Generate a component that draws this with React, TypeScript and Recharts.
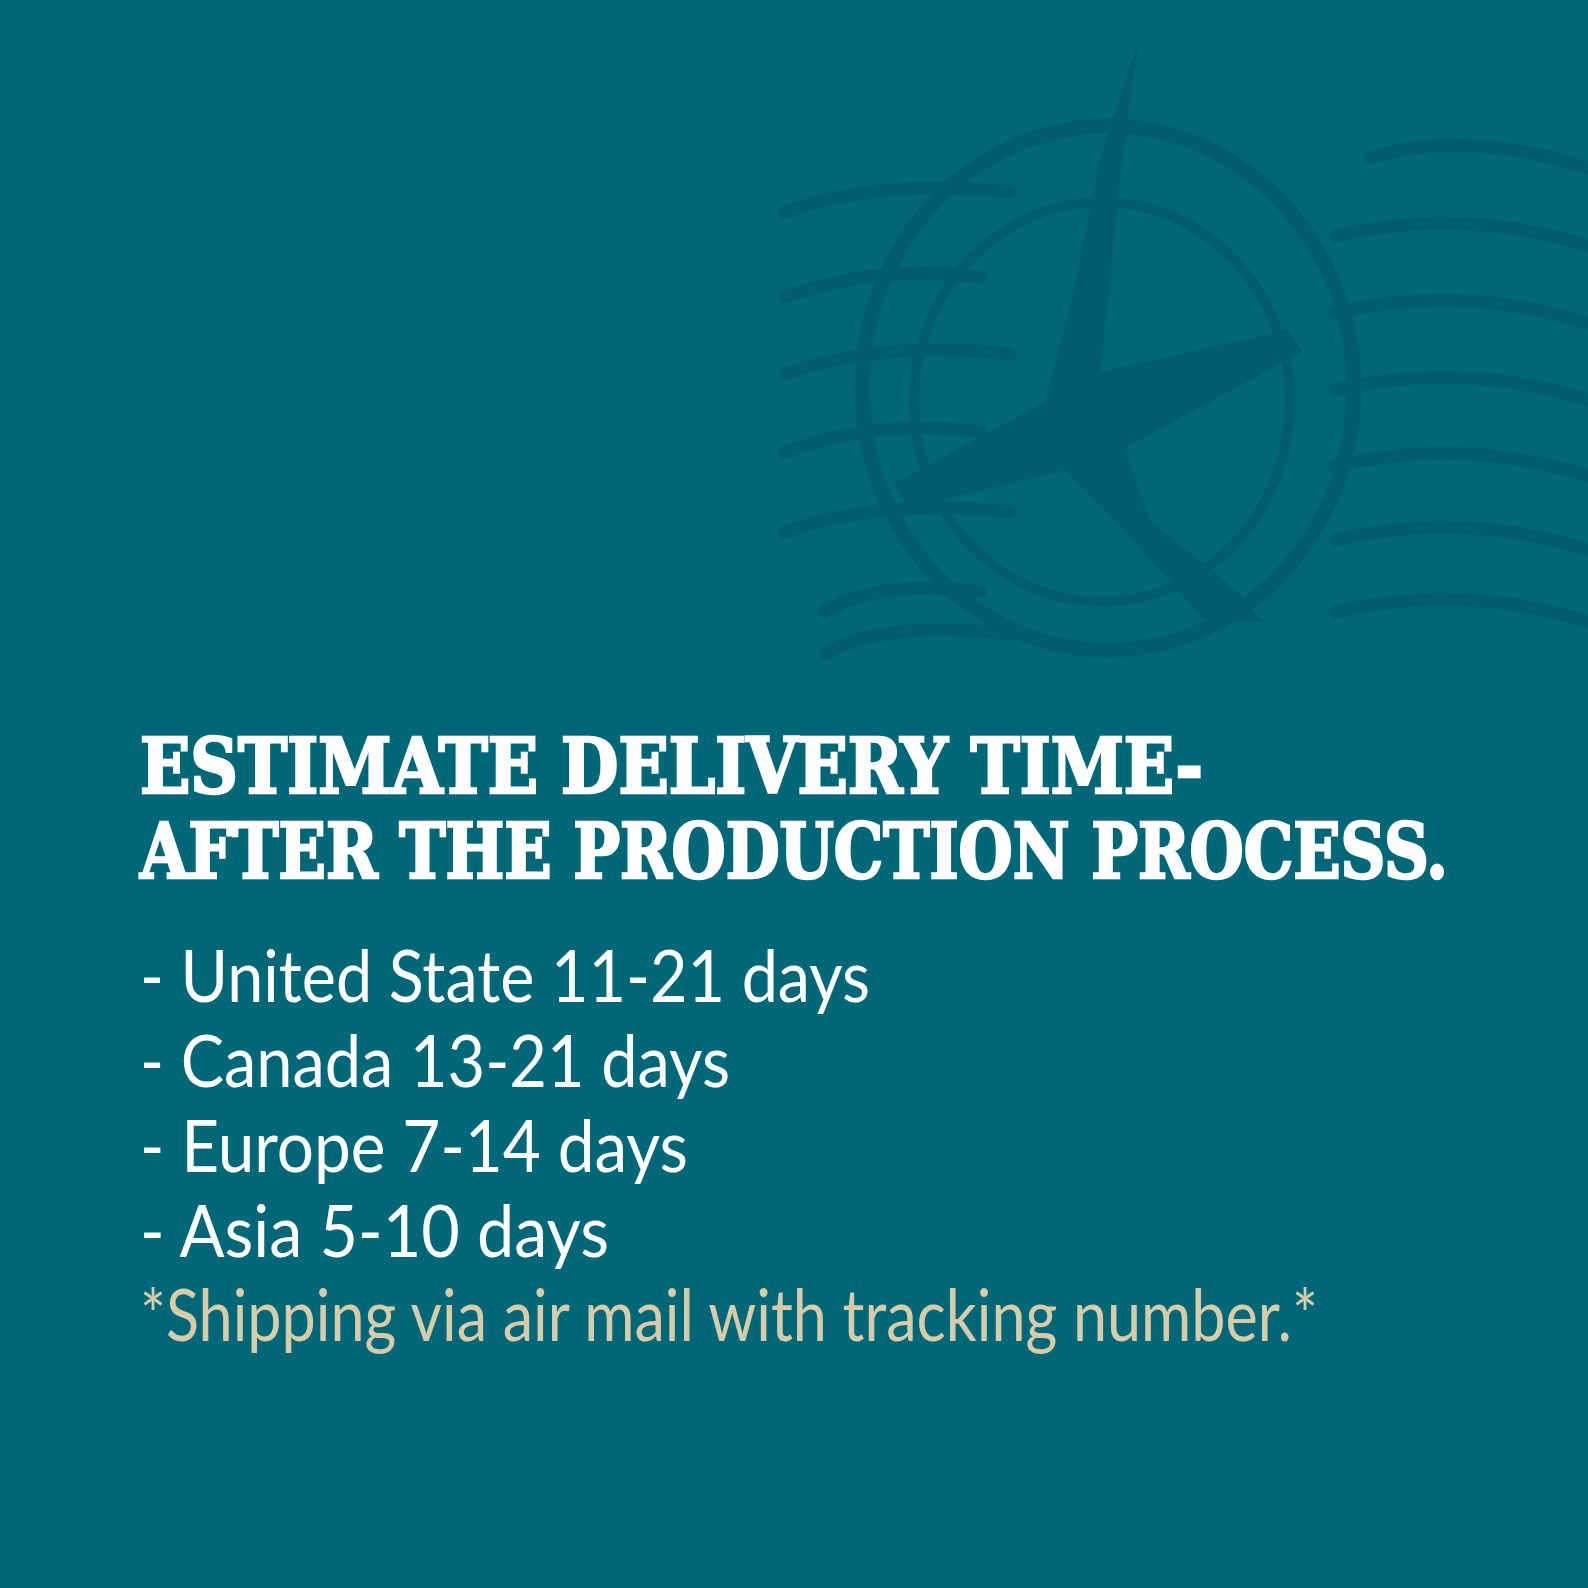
import React from 'react';
import { ComposedChart, Scatter, XAxis, YAxis, Customized } from 'recharts';

// ---- data ----
const titleLines = ['ESTIMATE DELIVERY TIME-', 'AFTER THE PRODUCTION PROCESS.'];
const regions = ['United State', 'Canada', 'Europe', 'Asia'];
const minDays = [11, 13, 7, 5];
const maxDays = [21, 21, 14, 10];
const footnote = '*Shipping via air mail with tracking number.*';

// ---- layout (not data) ----
const W = 1588;
const H = 1588;
const ROW_SLOTS = [0, 1, 2.46, 3.46, 4.46, 5.46, 6.45];
const LINE_WIDTHS = [1063, 1308, 730, 590, 548, 469, 1178];
const BG = '#006778';
const STAMP = '#005c6c';

type Row = { x: number; slot: number; text: string; kind: 'title' | 'item' | 'note'; idx: number };

const rows: Row[] = [
  ...titleLines.map((t, i) => ({ x: 0, slot: ROW_SLOTS[i], text: t, kind: 'title' as const, idx: i })),
  ...regions.map((r, i) => ({
    x: 0,
    slot: ROW_SLOTS[titleLines.length + i],
    text: `- ${r} ${minDays[i]}-${maxDays[i]} days`,
    kind: 'item' as const,
    idx: titleLines.length + i,
  })),
  { x: 0, slot: ROW_SLOTS[6], text: footnote, kind: 'note', idx: 6 },
];

const LineShape = (props: any) => {
  const { cx, cy, payload } = props;
  const p = payload as Row;
  if (p.kind === 'title') {
    return (
      <g transform={`translate(${cx},${cy}) scale(1,1.27)`}>
        <text
          x={0}
          y={0}
          fill="#ffffff"
          stroke="#ffffff"
          strokeWidth={2}
          strokeLinejoin="miter"
          fontFamily="'DejaVu Serif Condensed', 'DejaVu Serif', serif"
          fontWeight={900}
          fontSize={60}
          textLength={LINE_WIDTHS[p.idx]}
          lengthAdjust="spacingAndGlyphs"
        >
          {p.text}
        </text>
      </g>
    );
  }
  return (
    <text
      x={cx}
      y={cy}
      fill={p.kind === 'note' ? '#d6ccaa' : '#ffffff'}
      fontFamily="Lato, 'Noto Sans', sans-serif"
      fontWeight={400}
      fontSize={72}
      textLength={LINE_WIDTHS[p.idx]}
      lengthAdjust="spacingAndGlyphs"
    >
      {p.text}
    </text>
  );
};

const Stamp = () => {
  const rightWaves = [150, 228, 305, 382, 458, 532, 604];
  const leftWaves = [200, 285, 362, 440, 520, 600, 642];
  return (
    <g opacity={0.85}>
      <ellipse cx={1108} cy={388} rx={246} ry={262} fill="none" stroke={STAMP} strokeWidth={15} />
      <ellipse cx={1102} cy={402} rx={188} ry={200} fill="none" stroke={STAMP} strokeWidth={10} />
      {rightWaves.map((y, i) => (
        <path
          key={'r' + i}
          d={`M ${1335 + (i === 0 ? 35 : 0)} ${y + 8} Q ${1460} ${y - 22} ${W} ${y + 18}`}
          fill="none"
          stroke={STAMP}
          strokeWidth={13}
          strokeLinecap="round"
        />
      ))}
      {leftWaves.map((y, i) => (
        <path
          key={'l' + i}
          d={`M ${785 + (i > 4 ? 40 : 0)} ${y + 12} Q ${880} ${y - 22} ${1010 - (i % 2) * 30} ${y - 8}`}
          fill="none"
          stroke={STAMP}
          strokeWidth={13}
          strokeLinecap="round"
        />
      ))}
      <path
        d="M 1138 42 L 1120 180 L 1108 300 L 1100 372 L 1288 330 L 1302 352 L 1125 448 L 1150 520 L 1245 598 L 1262 622 L 1205 620 L 1110 515 L 1065 470 L 910 508 L 893 484 L 1045 402 L 1072 300 L 1100 160 Z"
        fill={STAMP}
      />
    </g>
  );
};

export default function App() {
  return (
    <div style={{ position: 'absolute', left: 0, top: 0, width: W, height: H, background: BG }}>
      <ComposedChart width={W} height={H} data={rows} margin={{ top: 0, right: 0, bottom: 0, left: 0 }}>
        <XAxis type="number" dataKey="x" domain={[-140, W - 140]} hide />
        <YAxis type="number" dataKey="slot" domain={[-793 / 85, (H - 793) / 85]} reversed hide />
        <Customized component={Stamp} />
        <Scatter data={rows} dataKey="slot" shape={LineShape} isAnimationActive={false} />
      </ComposedChart>
    </div>
  );
}
